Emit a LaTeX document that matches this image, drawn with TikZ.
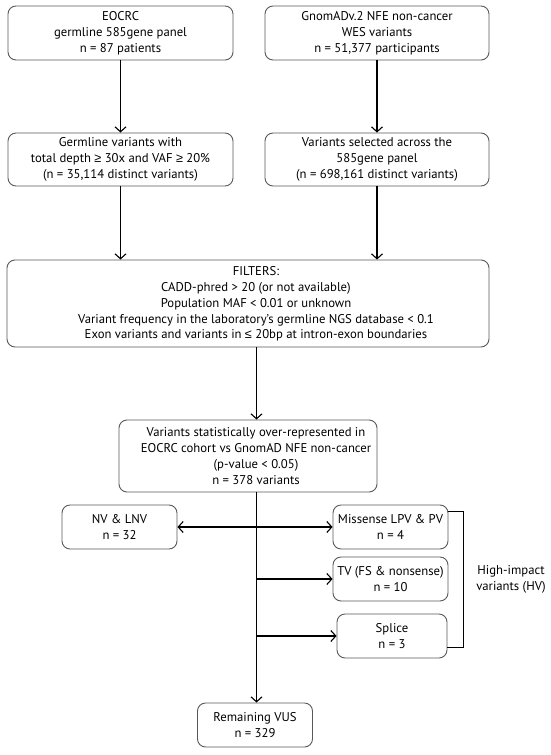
\documentclass[tikz,border=0pt]{standalone}
\usepackage{fontspec}
\setmainfont{PT Sans}
\newfontfamily\symf{Liberation Sans}
\newcommand{\mygeq}{{\symf ≥}}
\newcommand{\myleq}{{\symf ≤}}
\usetikzlibrary{arrows.meta,calc}
\begin{document}
\begin{tikzpicture}[x=1pt,y=-1pt,
  box/.style={draw=black!65,line width=0.9pt,rounded corners=8pt,inner sep=0pt,
    align=center,font=\fontsize{12.7}{15.8}\selectfont},
  txt/.style={align=center,inner sep=0pt,font=\fontsize{12.7}{15.8}\selectfont},
  conn/.style={line width=1.2pt,-{Straight Barb[length=5pt,width=11pt,line width=1.1pt]}},
  bar/.style={line width=1.2pt}]
\useasboundingbox (0,0) rectangle (550,755);
% boxes
\node[box,minimum width=225pt,minimum height=54pt] (b1) at (120.5,33) {EOCRC\\germline 585gene panel\\n = 87 patients};
\node[box,minimum width=224pt,minimum height=54pt] (b2) at (377,33) {GnomADv.2 NFE non-cancer\\WES variants\\n = 51,377 participants};
\node[box,minimum width=225pt,minimum height=53pt] (b3) at (120.5,159.5) {Germline variants with\\total depth \mygeq{} 30x and VAF \mygeq{} 20\%\\(n = 35,114 distinct variants)};
\node[box,minimum width=224pt,minimum height=53pt] (b4) at (377,159.5) {Variants selected across the\\585gene panel\\(n = 698,161 distinct variants)};
\node[box,minimum width=482pt,minimum height=87pt] (filt) at (248,303.5) {};
\node[txt] (filttxt) at (256,304) {FILTERS:\\CADD-phred > 20 (or not available)\\Population MAF < 0.01 or unknown\\Variant frequency in the laboratory’s germline NGS database < 0.1\\Exon variants and variants in \myleq{} 20bp at intron-exon boundaries};
\node[box,minimum width=258pt,minimum height=72pt] (stat) at (248,456) {};
\node[txt] (stattxt) at (256,456) {Variants statistically over-represented in\\EOCRC cohort vs GnomAD NFE non-cancer\\(p-value < 0.05)\\n = 378 variants};
\node[box,minimum width=115pt,minimum height=44pt] (nv) at (119.5,527) {NV \& LNV\\n = 32};
\node[box,minimum width=115pt,minimum height=44pt] (mis) at (390.5,527) {Missense LPV \& PV\\n = 4};
\node[box,minimum width=115pt,minimum height=44pt] (tv) at (390.5,579) {TV (FS \& nonsense)\\n = 10};
\node[box,minimum width=110pt,minimum height=44pt] (spl) at (392,636) {Splice\\n = 3};
\node[box,minimum width=115pt,minimum height=44pt] (vus) at (255,725) {Remaining VUS\\n = 329};
\node[txt] (hv) at (511,579) {High-impact\\variants (HV)};
% spine
\coordinate (sp) at (256.5,0);
% connectors
\draw[conn] (b1) -- (b3);
\draw[conn] (b2) -- (b4);
\draw[conn] (b3.south) -- (b3.south |- filt.north);
\draw[conn] (b4.south) -- (b4.south |- filt.north);
\draw[conn] (filt.south -| sp) -- (stat.north -| sp);
\draw[conn] (stat.south -| sp) -- (vus.north -| sp);
\draw[line width=1.2pt,{Straight Barb[length=5pt,width=11pt,line width=1.1pt]}-{Straight Barb[length=5pt,width=11pt,line width=1.1pt]}] (nv.east) -- (mis.west);
\draw[conn] (tv.west -| sp) -- (tv.west);
\draw[conn] (spl.west -| sp) -- (spl.west);
\coordinate (bt) at ($(mis.north east)+(0,7)$);
\coordinate (bb) at ($(spl.south east)+(0,-11)$);
\draw[bar] (bt) -- ++(15,0) |- (bb);
\end{tikzpicture}
\end{document}
